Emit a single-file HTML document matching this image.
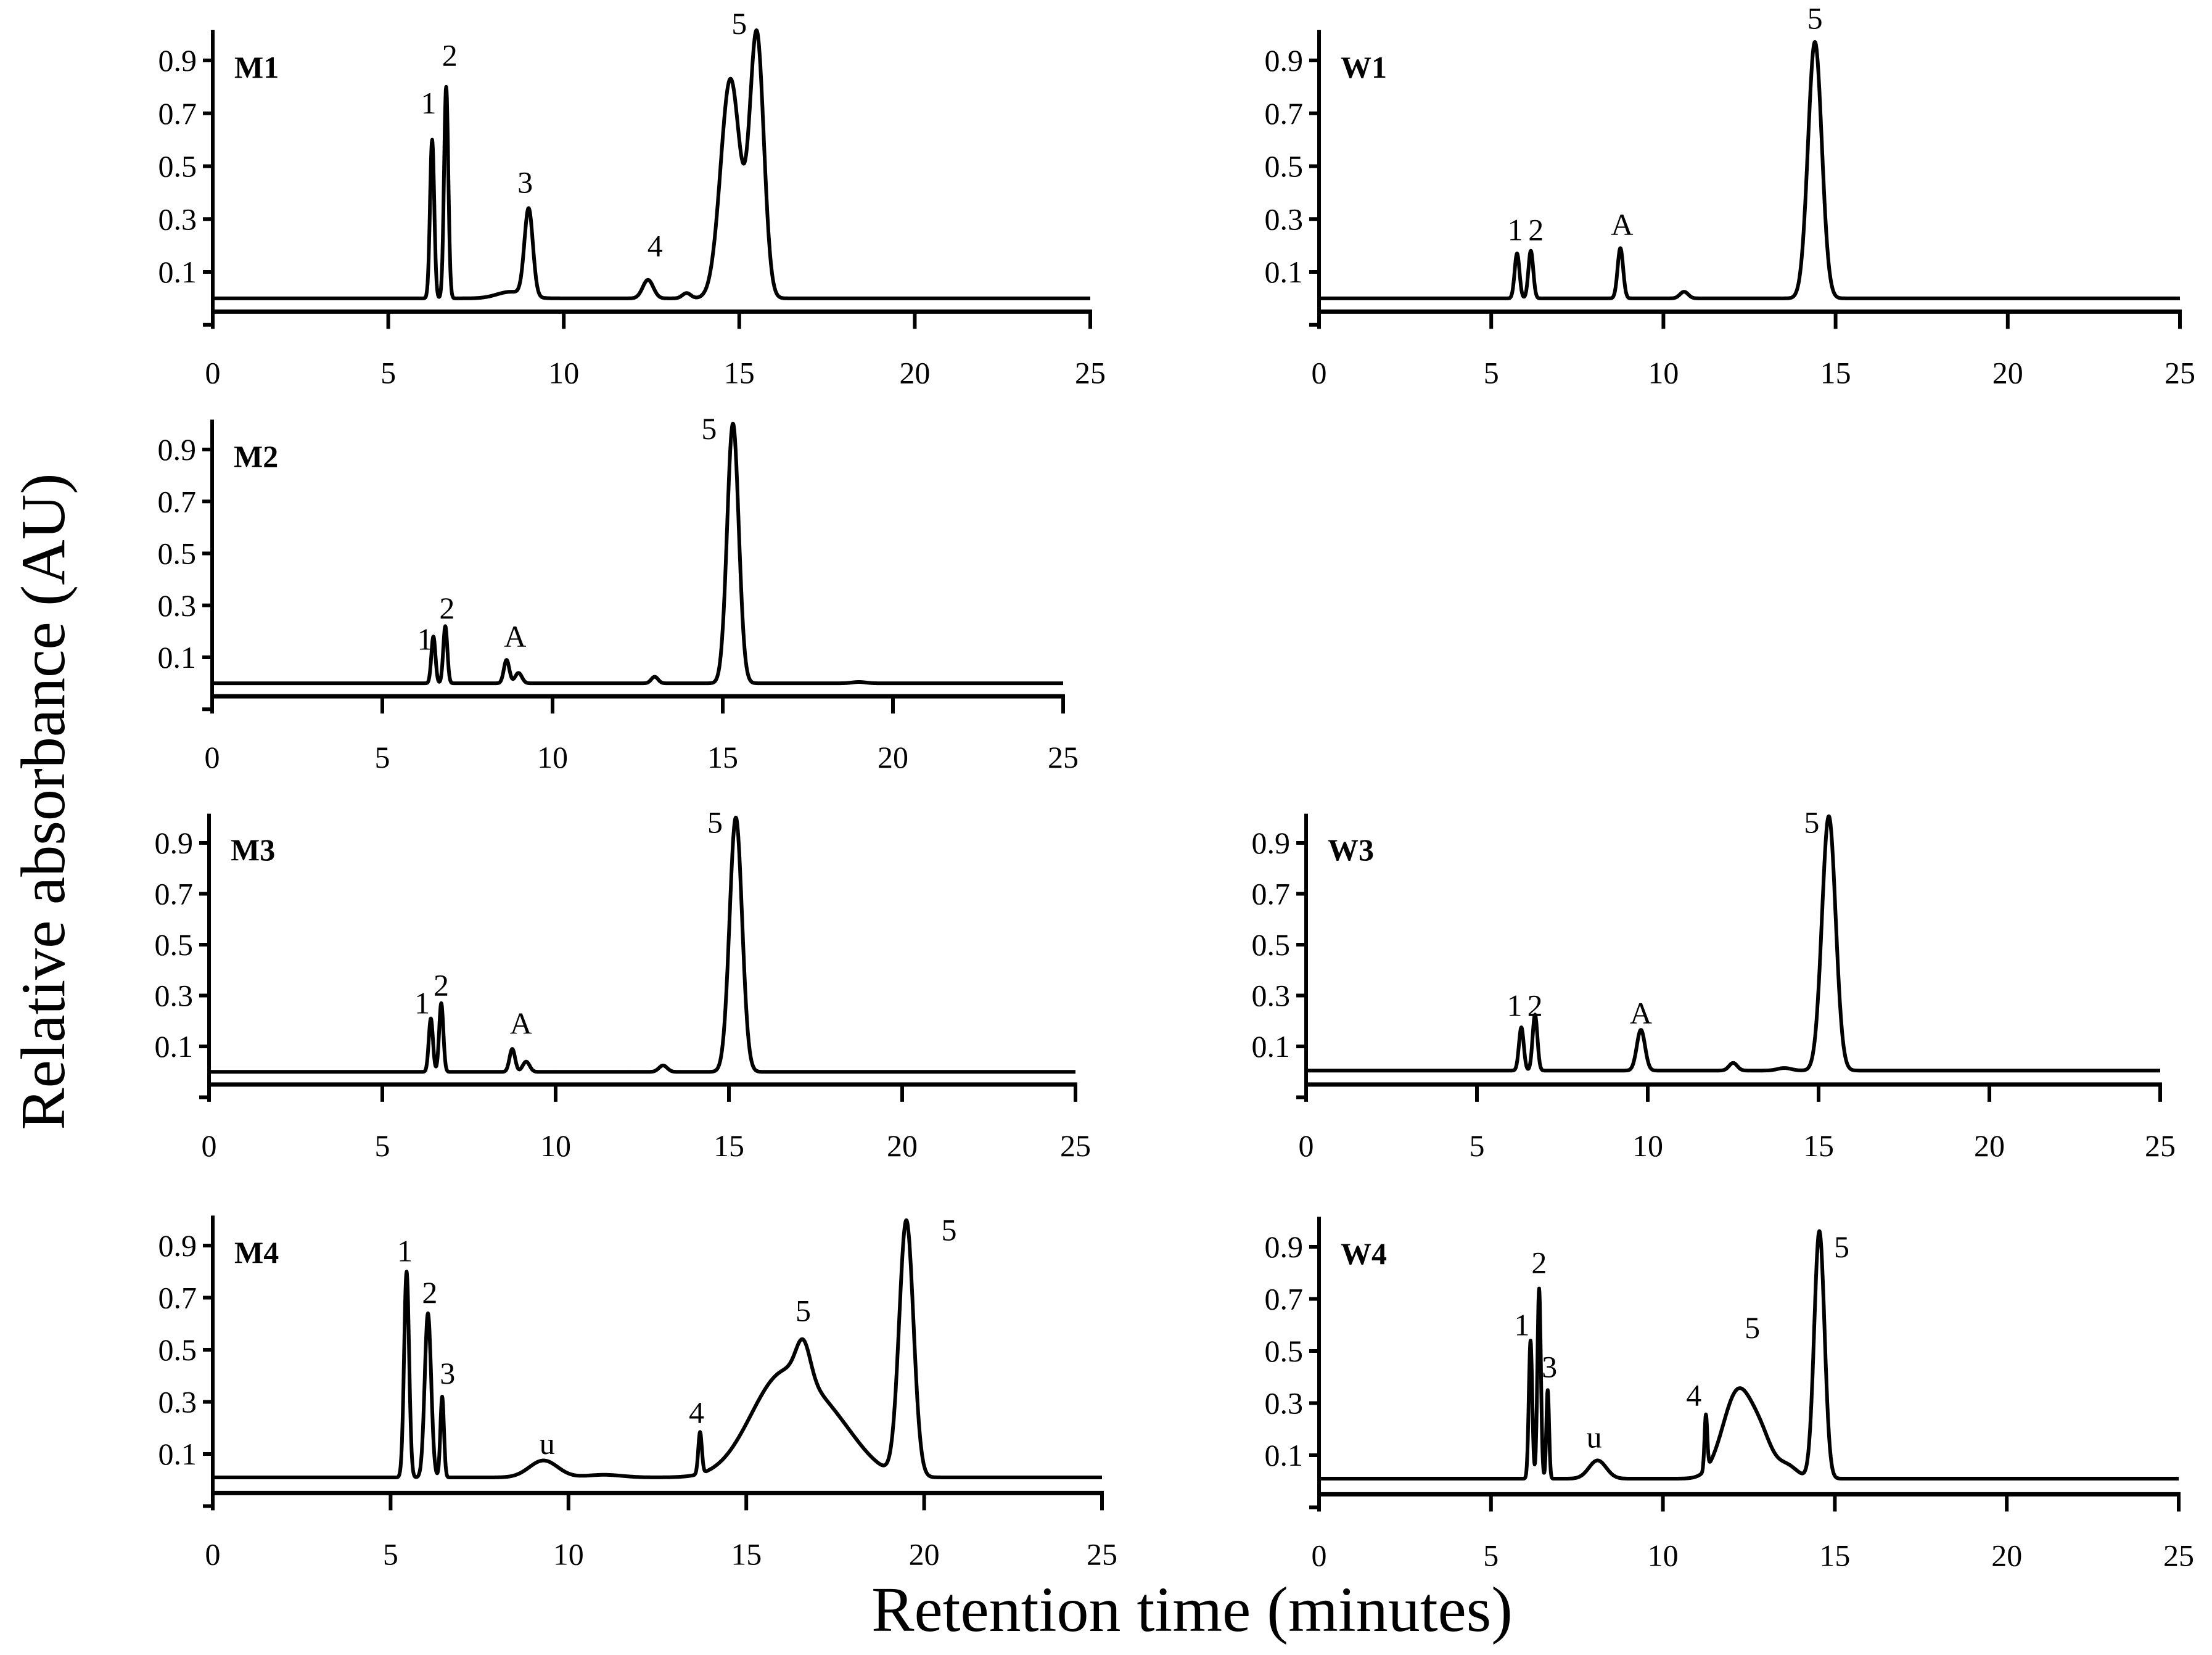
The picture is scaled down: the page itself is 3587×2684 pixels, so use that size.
<!DOCTYPE html>
<html><head><meta charset="utf-8"><style>
html,body{margin:0;padding:0;background:#fff;}
svg{display:block;font-family:"Liberation Serif",serif;}
</style></head><body>
<svg id="chart" width="3587" height="2684" viewBox="0 0 3587 2684" xmlns="http://www.w3.org/2000/svg">
<text x="0" y="0" font-size="102" transform="translate(104,1300) rotate(-90)" text-anchor="middle">Relative absorbance (AU)</text>
<text x="1933" y="2645" font-size="104" text-anchor="middle">Retention time (minutes)</text>
</svg>
<script>
// chart data (peak tables: retention time, height, width in minutes)
const xTicks = [0, 5, 10, 15, 20, 25];
const yTicks = [0.1, 0.3, 0.5, 0.7, 0.9];
const yTickLabels = ["0.1", "0.3", "0.5", "0.7", "0.9"];
const m1Times = [6.25, 6.65, 8.5, 9.0, 12.4, 13.5, 14.75, 15.5];
const m1Heights = [0.6, 0.8, 0.025, 0.33, 0.07, 0.02, 0.83, 0.99];
const m1Widths = [0.06, 0.06, 0.4, 0.12, 0.15, 0.12, 0.28, 0.2];
const m1Labels = ["1", "2", "3", "4", "5"];
const m1LabelT = [6.15, 6.75, 8.9, 12.6, 15.0];
const m1LabelY = [0.7, 0.88, 0.4, 0.16, 1.0];
const w1Times = [5.75, 6.15, 8.75, 10.6, 14.4];
const w1Heights = [0.17, 0.18, 0.19, 0.025, 0.97];
const w1Widths = [0.07, 0.07, 0.08, 0.12, 0.2];
const w1Labels = ["1", "2", "A", "5"];
const w1LabelT = [5.7, 6.3, 8.8, 14.4];
const w1LabelY = [0.22, 0.22, 0.24, 1.02];
const m2Times = [6.5, 6.85, 8.65, 9.0, 13.0, 15.3, 19.0];
const m2Heights = [0.18, 0.22, 0.09, 0.04, 0.025, 1.0, 0.005];
const m2Widths = [0.06, 0.06, 0.08, 0.1, 0.1, 0.17, 0.2];
const m2Labels = ["1", "2", "A", "5"];
const m2LabelT = [6.25, 6.9, 8.9, 14.6];
const m2LabelY = [0.13, 0.25, 0.14, 0.94];
const m3Times = [6.4, 6.7, 8.75, 9.15, 13.1, 15.2];
const m3Heights = [0.21, 0.27, 0.09, 0.04, 0.025, 1.0];
const m3Widths = [0.06, 0.06, 0.08, 0.1, 0.12, 0.18];
const m3Labels = ["1", "2", "A", "5"];
const m3LabelT = [6.15, 6.7, 9.0, 14.6];
const m3LabelY = [0.23, 0.3, 0.15, 0.94];
const w3Times = [6.3, 6.7, 9.8, 12.5, 14.0, 15.3];
const w3Heights = [0.17, 0.22, 0.16, 0.03, 0.01, 1.0];
const w3Widths = [0.07, 0.07, 0.12, 0.12, 0.2, 0.2];
const w3Labels = ["1", "2", "A", "5"];
const w3LabelT = [6.1, 6.7, 9.8, 14.8];
const w3LabelY = [0.22, 0.22, 0.19, 0.94];
const m4Times = [5.45, 6.05, 6.45, 9.3, 11.0, 13.7, 16.0, 16.6, 17.5, 19.5];
const m4Heights = [0.79, 0.63, 0.31, 0.065, 0.01, 0.16, 0.38, 0.14, 0.16, 0.98];
const m4Widths = [0.07, 0.09, 0.05, 0.4, 0.5, 0.05, 0.9, 0.2, 0.8, 0.2];
const m4Labels = ["1", "2", "3", "u", "4", "5", "5"];
const m4LabelT = [5.4, 6.1, 6.6, 9.4, 13.6, 16.6, 20.7];
const m4LabelY = [0.84, 0.68, 0.37, 0.1, 0.22, 0.61, 0.92];
const w4Times = [6.15, 6.4, 6.65, 8.1, 11.25, 12.2, 12.9, 13.6, 14.55];
const w4Heights = [0.53, 0.73, 0.34, 0.07, 0.21, 0.34, 0.1, 0.05, 0.95];
const w4Widths = [0.05, 0.05, 0.04, 0.25, 0.04, 0.45, 0.3, 0.3, 0.15];
const w4Labels = ["1", "2", "3", "u", "4", "5", "5"];
const w4LabelT = [5.9, 6.4, 6.7, 8.0, 10.9, 12.6, 15.2];
const w4LabelY = [0.56, 0.8, 0.4, 0.13, 0.29, 0.55, 0.86];

const panels = [
 {id:"m1", title:"M1", x0:345, x25:1768, y09:98, y01:441, base:0.0, t:m1Times, h:m1Heights, w:m1Widths, lb:m1Labels, lt:m1LabelT, ly:m1LabelY},
 {id:"w1", title:"W1", x0:2139, x25:3535, y09:98, y01:441, base:0.0, t:w1Times, h:w1Heights, w:w1Widths, lb:w1Labels, lt:w1LabelT, ly:w1LabelY},
 {id:"m2", title:"M2", x0:344, x25:1724, y09:729, y01:1066, base:0.0, t:m2Times, h:m2Heights, w:m2Widths, lb:m2Labels, lt:m2LabelT, ly:m2LabelY},
 {id:"m3", title:"M3", x0:339, x25:1744, y09:1367, y01:1697, base:0.0, t:m3Times, h:m3Heights, w:m3Widths, lb:m3Labels, lt:m3LabelT, ly:m3LabelY},
 {id:"w3", title:"W3", x0:2118, x25:3503, y09:1367, y01:1697, base:0.005, t:w3Times, h:w3Heights, w:w3Widths, lb:w3Labels, lt:w3LabelT, ly:w3LabelY},
 {id:"m4", title:"M4", x0:345, x25:1787, y09:2020, y01:2358, base:0.01, t:m4Times, h:m4Heights, w:m4Widths, lb:m4Labels, lt:m4LabelT, ly:m4LabelY},
 {id:"w4", title:"W4", x0:2139, x25:3533, y09:2022, y01:2360, base:0.01, t:w4Times, h:w4Heights, w:w4Widths, lb:w4Labels, lt:w4LabelT, ly:w4LabelY}
];
const svg = document.getElementById('chart');
const NS = "http://www.w3.org/2000/svg";
function mk(tag, attrs, parent){
  const e = document.createElementNS(NS, tag);
  for (const k in attrs) e.setAttribute(k, attrs[k]);
  parent.appendChild(e); return e;
}
panels.forEach(p => {
  const X = t => p.x0 + (p.x25 - p.x0) * t / 25;
  const Y = v => p.y01 - (v - 0.1) * (p.y01 - p.y09) / 0.8;
  const g = mk('g', {}, svg);
  
  
  const ya = mk('line', {x1:p.x0, x2:p.x0, y1:Y(1.015), y2:Y(-0.1), stroke:'#000', 'stroke-width':6}, g);
  
  
  const xa = mk('line', {x1:p.x0, x2:p.x25 + 3, y1:Y(-0.05), y2:Y(-0.05), stroke:'#000', 'stroke-width':7}, g);
  
  
  mk('line', {x1:p.x0 - 16, x2:p.x0, y1:Y(-0.1), y2:Y(-0.1), stroke:'#000', 'stroke-width':6}, g);
  yTicks.forEach((v, i) => {
    const tk = mk('line', {x1:p.x0 - 16, x2:p.x0, y1:Y(v), y2:Y(v), stroke:'#000', 'stroke-width':6}, g);
    
    
    const tl = mk('text', {x:p.x0 - 26, y:Y(v) + 17, 'font-size':50, 'text-anchor':'end'}, g);
    
    
    tl.textContent = yTickLabels[i];
  });
  xTicks.forEach(t => {
    const tk = mk('line', {x1:X(t), x2:X(t), y1:Y(-0.05), y2:Y(-0.05) + 28, stroke:'#000', 'stroke-width':6}, g);
    
    
    const tl = mk('text', {x:X(t), y:Y(-0.05) + 116, 'font-size':50, 'text-anchor':'middle'}, g);
    
    
    tl.textContent = String(t);
  });
  const ti = mk('text', {x:p.x0 + 35, y:Y(0.9) + 28, 'font-size':50, 'font-weight':'bold'}, g);
  
  
  ti.textContent = p.title;
  let d = '';
  for (let i = 0; i <= 2500; i++) {
    const t = i * 0.01;
    let v = p.base;
    for (let k = 0; k < p.t.length; k++) {
      const z = (t - p.t[k]) / p.w[k];
      v += p.h[k] * Math.exp(-0.5 * z * z);
    }
    d += (i ? 'L' : 'M') + X(t).toFixed(1) + ' ' + Y(v).toFixed(1);
  }
  const tr = mk('path', {d:d, fill:'none', stroke:'#000', 'stroke-width':6, 'stroke-linejoin':'round'}, g);
  
  
  p.lb.forEach((s, k) => {
    const pl = mk('text', {x:X(p.lt[k]), y:Y(p.ly[k]), 'font-size':50, 'text-anchor':'middle'}, g);
    
    
    pl.textContent = s;
  });
});
</script>
</body></html>
